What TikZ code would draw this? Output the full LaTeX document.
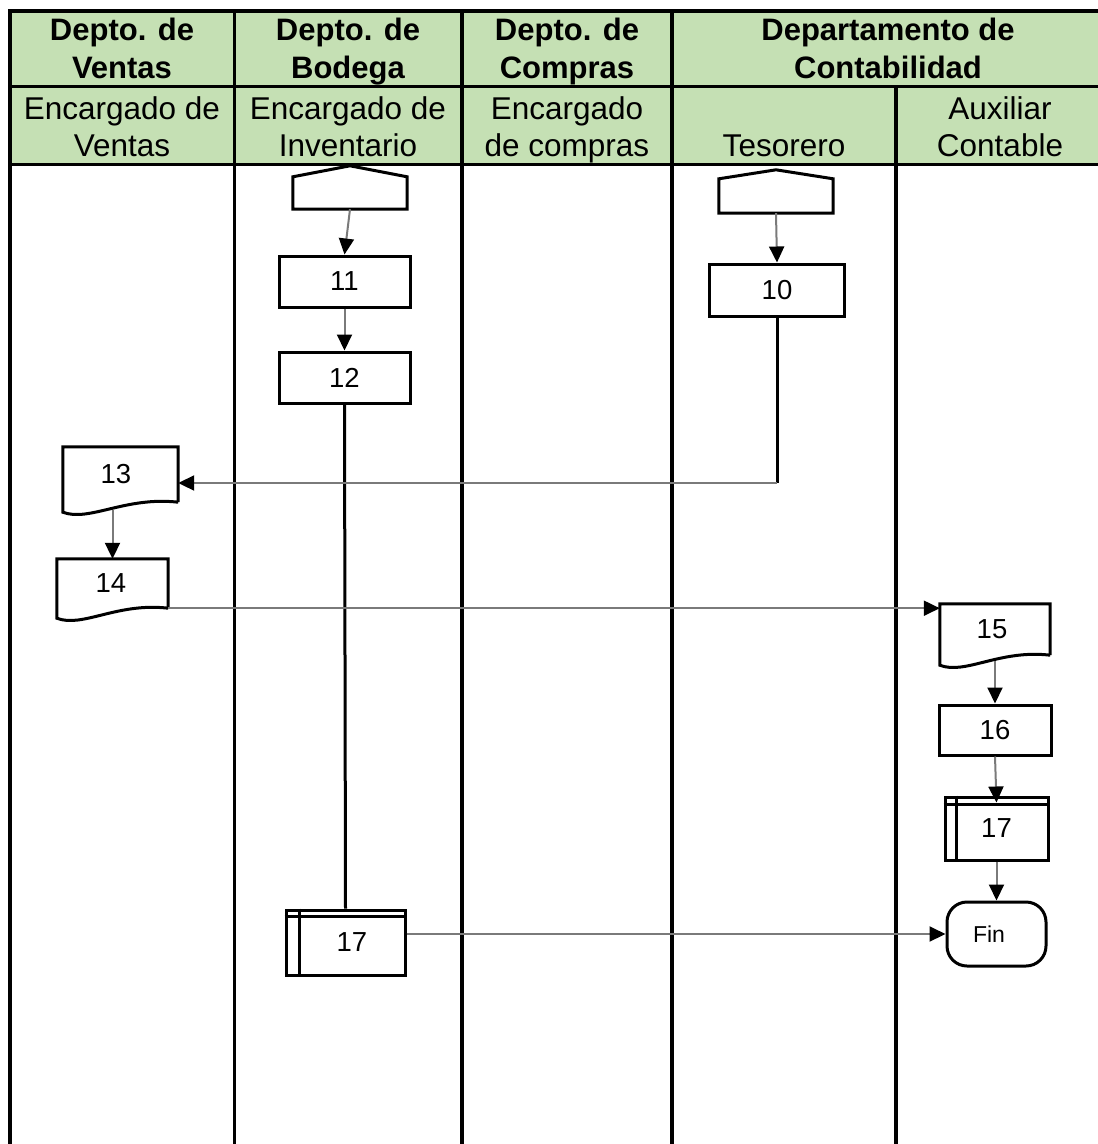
\documentclass[tikz,border=0pt]{standalone}
\usepackage{fontspec}
\setmainfont{Liberation Sans}
\usetikzlibrary{arrows.meta,calc}
\definecolor{hdrgreen}{HTML}{C5E0B4}
\definecolor{linkgray}{HTML}{7A7A7A}

% outline of a document symbol built on a plain rectangular node
\newcommand\docoutline[1]{%
  \draw[boxline] (#1.south east) -- (#1.north east) -- (#1.north west)
    -- ($(#1.south west)+(0,10)$)
    .. controls ($(#1.south west)!0.23!(#1.south east)+(0,20)$)
            and ($(#1.south west)!0.54!(#1.south east)+(0,-6)$) .. (#1.south east);}
% off-page connector: rectangle body with a pointed top
\newcommand\offpage[2]{%
  \draw[boxline] (#1.south west) -- (#1.north west) -- ($(#1.north)+(0,-#2)$)
    -- (#1.north east) -- (#1.south east) -- cycle;}
% predefined process with an extra top band
\newcommand\predef[3]{%
  \draw[boxline] ($(#1.north west)+(#2,0)$) -- ($(#1.south west)+(#2,0)$);
  \draw[boxline] ($(#1.north west)+(0,#3)$) -- ($(#1.north east)+(0,#3)$);}

\begin{document}
\begin{tikzpicture}[x=1pt,y=-1pt,
  lane/.style={line width=3.5pt},
  boxline/.style={draw=black,line width=3pt},
  body/.style={rectangle,inner sep=0pt,font=\fontsize{27.5}{32}\selectfont},
  proc/.style={body,boxline},
  hdr/.style={align=center,inner sep=0pt,anchor=base,font=\fontsize{31}{37.5}\selectfont\bfseries},
  sub/.style={align=center,inner sep=0pt,anchor=base,font=\fontsize{31.5}{37}\selectfont},
  flow/.style={draw=linkgray,line width=2pt,-{Triangle[length=16pt,width=15pt,color=black,fill=black]}},
  trunk/.style={draw=black,line width=3pt},
]
\useasboundingbox (0,0) rectangle (1098,1144);
\clip (0,0) rectangle (1098,1144);

% header band
\fill[hdrgreen] (10,11) rectangle (1104,164.5);
\draw[lane] (8.25,11) -- (1104,11);
\draw[lane] (10,86.5) -- (1104,86.5);
\draw[lane] (10,164.5) -- (1104,164.5);
\foreach \x in {10,234.5,462,672}
  \draw[lane] (\x,9.25) -- (\x,1144);
\draw[lane] (896,86.5) -- (896,1144);

% department titles (anchored on the last line's baseline)
\node[hdr] (dventas)   at (122,78)  {Depto. de\\Ventas};
\node[hdr] (dbodega)   at (348,78)  {Depto. de\\Bodega};
\node[hdr] (dcompras)  at (567,78)  {Depto. de\\Compras};
\node[hdr] (dconta)    at (888,78)  {Departamento de\\Contabilidad};

% roles
\node[sub] (rventas)   at (122,156) {Encargado de\\Ventas};
\node[sub] (rinvent)   at (348,156) {Encargado de\\Inventario};
\node[sub] (rcompras)  at (567,156) {Encargado\\de compras};
\node[sub] (rtesor)    at (784,156) {Tesorero};
\node[sub] (raux)      at (1000,156) {Auxiliar\\Contable};

% Bodega lane
\node[body,minimum width=114pt,minimum height=32pt] (op1) at (350,193) {};
\offpage{op1}{11}
\node[proc,minimum width=131pt,minimum height=51pt] (b11) at (344.5,281.5)
  {\raisebox{-2.5pt}{11}};
\node[proc,minimum width=131pt,minimum height=51pt] (b12) at (344.5,377.5)
  {\raisebox{-2.5pt}{12}};
\node[proc,minimum width=119pt,minimum height=65pt] (p17a) at (345.5,942.5)
  {\hspace*{13pt}\raisebox{-3.5pt}{17}};
\predef{p17a}{15}{8}

% Tesorero lane
\node[body,minimum width=114pt,minimum height=34pt] (op2) at (776,196) {};
\offpage{op2}{9}
\node[proc,minimum width=135pt,minimum height=52pt] (b10) at (777,290)
  {\raisebox{-2.5pt}{10}};
\coordinate (turn) at (777,483);

% Ventas lane
\node[body,minimum width=115pt,minimum height=55pt] (d13) at (120.5,474.5)
  {\hspace*{-9pt}\raisebox{-2.5pt}{13}};
\docoutline{d13}
\node[body,minimum width=111pt,minimum height=49pt] (d14) at (112.5,583.5)
  {\hspace*{-3pt}\raisebox{-3.5pt}{14}};
\docoutline{d14}

% Auxiliar Contable lane
\node[body,minimum width=110pt,minimum height=51pt] (d15) at (995,629.5)
  {\hspace*{-6pt}\raisebox{-3.5pt}{15}};
\docoutline{d15}
\node[proc,minimum width=112pt,minimum height=50pt] (b16) at (995,730)
  {\raisebox{-4pt}{16}};
\node[proc,minimum width=103pt,minimum height=63pt] (p17b) at (996.5,828.5)
  {\raisebox{-6pt}{17}};
\predef{p17b}{13}{9}
\node[body,boxline,rounded corners=20pt,minimum width=99pt,minimum height=64pt,
  font=\fontsize{23}{27}\selectfont] (fin) at (996.5,934) {\hspace*{-15pt}Fin};

% connectors
\draw[flow] (op1.south) -- (b11.north);
\draw[flow] (b11.south) -- (b12.north);
\draw[trunk] (b12.south) -- (p17a.north);
\draw[flow] (op2.south) -- (b10.north);
\draw[trunk] (b10.south) -- (turn);
\draw[flow] (turn) -- (d13.east |- turn);
\draw[flow] ($(d14.north |- d13.south)+(0,8)$) -- (d14.north);
\draw[flow] (d14.south east) -- (d15.west |- d14.south east);
\draw[flow] ($(b16.north |- d15.south)+(0,6)$) -- (b16.north);
\draw[flow] (b16.south) -- ($(p17b.north)+(0,7)$);
\draw[flow] (p17b.south) -- (fin.north);
\draw[flow] (p17a.east |- fin.west) -- (fin.west);
\end{tikzpicture}
\end{document}
